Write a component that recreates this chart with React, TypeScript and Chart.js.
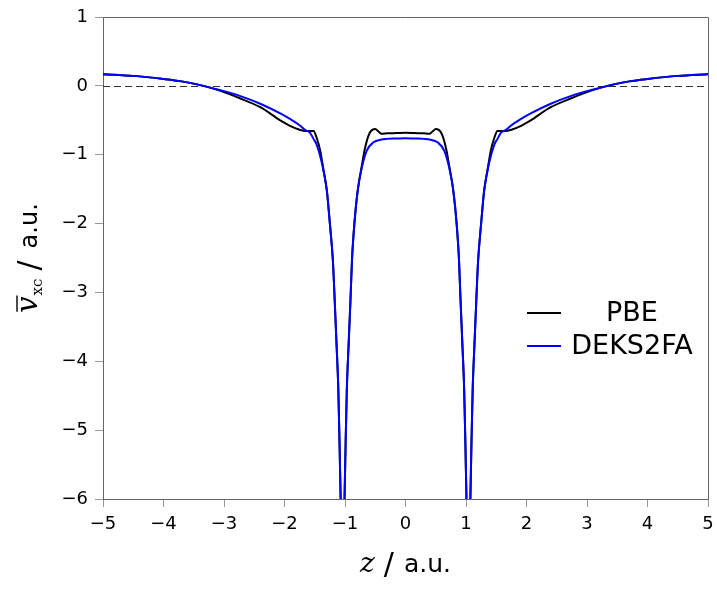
import React, { useEffect, useRef } from "react";
import { Chart, registerables } from "chart.js";

Chart.register(...registerables);

// PBE curve
const zPBE = [
  -5.0, -4.5, -4.0, -3.7, -3.34, -3.07, -2.74, -2.4, -2.07, -1.91, -1.74, -1.66, -1.52, -1.47, -1.41, -1.35, -1.3, -1.25, -1.2, -1.17, -1.14, -1.11, -1.09, -1.075, -1.04, -1.005, -0.99, -0.97, -0.94, -0.91, -0.885, -0.845, -0.79, -0.72, -0.68, -0.64, -0.59, -0.55, -0.5, -0.45, -0.4, -0.3, -0.15, 0,
  0.15, 0.3, 0.4, 0.45, 0.5, 0.55, 0.59, 0.64, 0.68, 0.72, 0.79, 0.845, 0.885, 0.91, 0.94, 0.97, 0.99, 1.005, 1.04, 1.075, 1.09, 1.11, 1.14, 1.17, 1.2, 1.25, 1.3, 1.35, 1.41, 1.47, 1.52, 1.66, 1.74, 1.91, 2.07, 2.4, 2.74, 3.07, 3.34, 3.7, 4.0, 4.5, 5.0,
];
const vPBE = [
  0.17, 0.145, 0.1, 0.065, 0.0, -0.07, -0.18, -0.31, -0.5, -0.58, -0.64, -0.655, -0.655, -0.75, -0.94, -1.25, -1.52, -2.0, -2.54, -3.12, -3.75, -4.42, -5.2, -5.87, -7.4, -5.87, -5.2, -4.42, -3.75, -3.12, -2.54, -2.0, -1.52, -1.15, -0.95, -0.8, -0.68, -0.64, -0.625, -0.66, -0.695, -0.69, -0.685, -0.68,
  -0.685, -0.69, -0.695, -0.66, -0.625, -0.64, -0.68, -0.8, -0.95, -1.15, -1.52, -2.0, -2.54, -3.12, -3.75, -4.42, -5.2, -5.87, -7.4, -5.87, -5.2, -4.42, -3.75, -3.12, -2.54, -2.0, -1.52, -1.25, -0.94, -0.75, -0.655, -0.655, -0.64, -0.58, -0.5, -0.31, -0.18, -0.07, 0.0, 0.065, 0.1, 0.145, 0.17,
];

// DEKS2FA curve
const zDEKS = [
  -5.0, -4.5, -4.0, -3.7, -3.34, -3.07, -2.74, -2.4, -2.07, -1.91, -1.74, -1.66, -1.58, -1.52, -1.47, -1.39, -1.3, -1.25, -1.2, -1.17, -1.14, -1.11, -1.09, -1.075, -1.04, -1.005, -0.99, -0.97, -0.94, -0.91, -0.885, -0.845, -0.79, -0.72, -0.64, -0.53, -0.4, -0.31, -0.15, 0,
  0.15, 0.31, 0.4, 0.53, 0.64, 0.72, 0.79, 0.845, 0.885, 0.91, 0.94, 0.97, 0.99, 1.005, 1.04, 1.075, 1.09, 1.11, 1.14, 1.17, 1.2, 1.25, 1.3, 1.39, 1.47, 1.52, 1.58, 1.66, 1.74, 1.91, 2.07, 2.4, 2.74, 3.07, 3.34, 3.7, 4.0, 4.5, 5.0,
];
const vDEKS = [
  0.17, 0.145, 0.1, 0.065, 0.0, -0.06, -0.145, -0.26, -0.4, -0.48, -0.58, -0.64, -0.68, -0.77, -0.85, -1.09, -1.52, -2.0, -2.54, -3.12, -3.75, -4.42, -5.2, -5.87, -7.4, -5.87, -5.2, -4.42, -3.75, -3.12, -2.54, -2.0, -1.52, -1.18, -0.94, -0.82, -0.78, -0.77, -0.765, -0.76,
  -0.765, -0.77, -0.78, -0.82, -0.94, -1.18, -1.52, -2.0, -2.54, -3.12, -3.75, -4.42, -5.2, -5.87, -7.4, -5.87, -5.2, -4.42, -3.75, -3.12, -2.54, -2.0, -1.52, -1.09, -0.85, -0.77, -0.68, -0.64, -0.58, -0.48, -0.4, -0.26, -0.145, -0.06, 0.0, 0.065, 0.1, 0.145, 0.17,
];

const seriesNames = ["PBE", "DEKS2FA"];
const seriesColors = ["#000000", "#0000ff"];

const xMin = -5, xMax = 5, yMin = -6, yMax = 1;

const SANS = "'DejaVu Sans', sans-serif";
const SERIF = "'DejaVu Serif', 'Liberation Serif', serif";

const fmt = (v: number | string) => {
  const n = Number(v);
  return n < 0 ? "\u2212" + Math.abs(n) : String(n);
};

type Part = { t: string; f: string; dy: number; gap: number; bar?: boolean };

function drawParts(ctx: CanvasRenderingContext2D, parts: Part[], center: number, base: number) {
  let total = 0;
  parts.forEach((p, i) => {
    ctx.font = p.f;
    total += ctx.measureText(p.t).width + (i > 0 ? p.gap : 0);
  });
  let x = center - total / 2;
  parts.forEach((p, i) => {
    if (i > 0) x += p.gap;
    ctx.font = p.f;
    const w = ctx.measureText(p.t).width;
    ctx.fillText(p.t, x, base + p.dy);
    if (p.bar) {
      ctx.beginPath();
      ctx.strokeStyle = "#000";
      ctx.lineWidth = 1.4;
      ctx.moveTo(x + 1, base - 20);
      ctx.lineTo(x + w + 1, base - 20);
      ctx.stroke();
    }
    x += w;
  });
}

const decorPlugin = {
  id: "decor",
  beforeDatasetsDraw(chart: any) {
    const { ctx, chartArea, scales } = chart;
    const y0 = Math.round(scales.y.getPixelForValue(0)) + 0.5;
    ctx.save();
    ctx.beginPath();
    ctx.setLineDash([7, 4]);
    ctx.strokeStyle = "#333";
    ctx.lineWidth = 1;
    ctx.moveTo(chartArea.left, y0);
    ctx.lineTo(chartArea.right, y0);
    ctx.stroke();
    ctx.restore();
  },
  afterDraw(chart: any) {
    const { ctx, chartArea } = chart;
    ctx.save();
    // frame top/right
    ctx.strokeStyle = "#666";
    ctx.lineWidth = 1;
    ctx.beginPath();
    ctx.moveTo(chartArea.left, Math.round(chartArea.top) + 0.5);
    ctx.lineTo(Math.round(chartArea.right) + 0.5, Math.round(chartArea.top) + 0.5);
    ctx.lineTo(Math.round(chartArea.right) + 0.5, chartArea.bottom);
    ctx.stroke();

    // legend
    const lx0 = chartArea.right - 181;
    const lx1 = lx0 + 34;
    const tc = chartArea.right - 76;
    const rows = [313, 346];
    ctx.font = `27px ${SANS}`;
    ctx.textAlign = "center";
    ctx.textBaseline = "middle";
    seriesNames.forEach((name, i) => {
      ctx.beginPath();
      ctx.strokeStyle = seriesColors[i];
      ctx.lineWidth = 2;
      ctx.moveTo(lx0, rows[i]);
      ctx.lineTo(lx1, rows[i]);
      ctx.stroke();
      ctx.fillStyle = "#000";
      ctx.fillText(name, tc, rows[i] + 1);
    });

    ctx.textAlign = "left";
    ctx.textBaseline = "alphabetic";
    ctx.fillStyle = "#000";

    // x title: z / a.u.
    drawParts(
      ctx,
      [
        { t: "z", f: `italic 28px ${SERIF}`, dy: 0, gap: 0 },
        { t: "/", f: `30px ${SANS}`, dy: 2, gap: 9 },
        { t: "a.u.", f: `25px ${SANS}`, dy: 0, gap: 10 },
      ],
      (chartArea.left + chartArea.right) / 2,
      572
    );

    // y title: v̄_xc / a.u.
    ctx.translate(37, (chartArea.top + chartArea.bottom) / 2);
    ctx.rotate(-Math.PI / 2);
    drawParts(
      ctx,
      [
        { t: "v", f: `italic 29px ${SERIF}`, dy: 0, gap: 0, bar: true },
        { t: "xc", f: `15px ${SERIF}`, dy: 5, gap: 1 },
        { t: "/", f: `30px ${SANS}`, dy: 2, gap: 8 },
        { t: "a.u.", f: `24px ${SANS}`, dy: 0, gap: 12 },
      ],
      0,
      0
    );
    ctx.restore();
  },
};

export default function App() {
  const ref = useRef<HTMLCanvasElement | null>(null);
  useEffect(() => {
    if (!ref.current) return;
    const tickFont = { family: SANS, size: 18 };
    const chart = new Chart(ref.current, {
      type: "line",
      data: {
        datasets: [
          {
            label: seriesNames[0],
            data: zPBE.map((z, i) => ({ x: z, y: vPBE[i] })),
            borderColor: seriesColors[0],
            borderWidth: 2,
            pointRadius: 0,
            cubicInterpolationMode: "monotone",
            order: 1,
            clip: 0,
          },
          {
            label: seriesNames[1],
            data: zDEKS.map((z, i) => ({ x: z, y: vDEKS[i] })),
            borderColor: seriesColors[1],
            borderWidth: 2,
            pointRadius: 0,
            cubicInterpolationMode: "monotone",
            order: 0,
            clip: 0,
          },
        ],
      },
      options: {
        animation: false,
        responsive: false,
        maintainAspectRatio: false,
        layout: { padding: { top: 17, right: 9, left: 0, bottom: 0 } },
        plugins: { legend: { display: false }, tooltip: { enabled: false } },
        scales: {
          x: {
            type: "linear",
            min: xMin,
            max: xMax,
            ticks: { stepSize: 1, font: tickFont, color: "#000", padding: 7, callback: (v: any) => fmt(v), maxRotation: 0 },
            grid: { drawOnChartArea: false, drawTicks: true, tickLength: 8, color: "#999" },
            border: { display: true, color: "#666", width: 1 },
            afterFit: (s: any) => { s.height = 91; s.paddingLeft = 0; s.paddingRight = 0; },
          },
          y: {
            type: "linear",
            min: yMin,
            max: yMax,
            ticks: { stepSize: 1, font: tickFont, color: "#000", padding: 7, callback: (v: any) => fmt(v) },
            grid: { drawOnChartArea: false, drawTicks: true, tickLength: 8, color: "#999" },
            border: { display: true, color: "#666", width: 1 },
            afterFit: (s: any) => { s.width = 103; s.paddingTop = 0; s.paddingBottom = 0; },
          },
        },
      },
      plugins: [decorPlugin],
    } as any);
    return () => chart.destroy();
  }, []);
  return (
    <div style={{ position: "absolute", left: 0, top: 0, width: 717, height: 590, background: "#fff" }}>
      <canvas ref={ref} width={717} height={590} style={{ display: "block" }} />
    </div>
  );
}
